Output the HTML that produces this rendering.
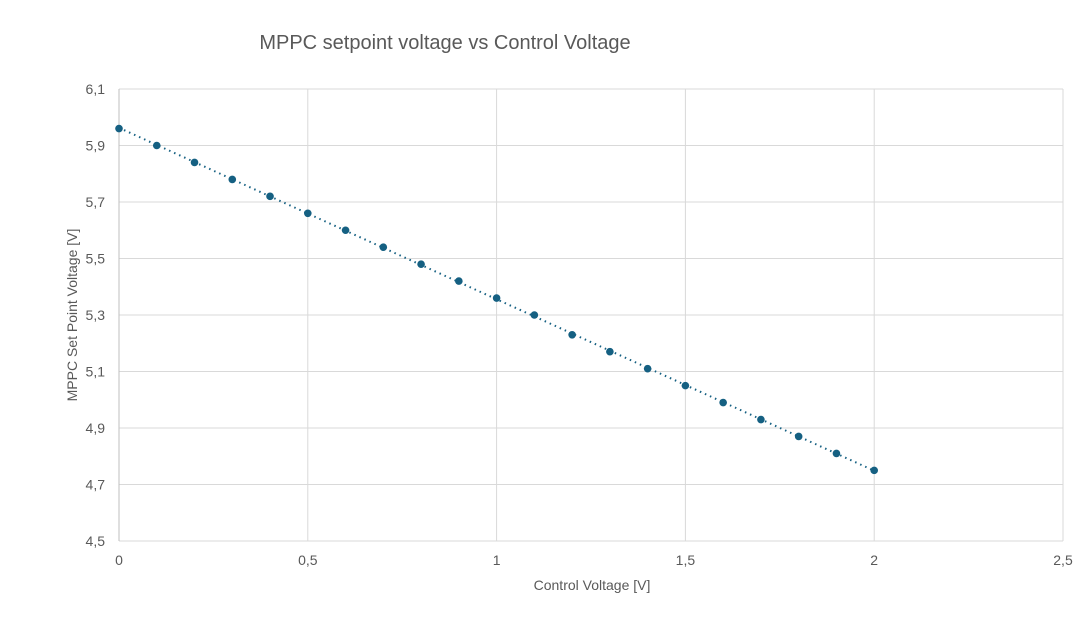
<!DOCTYPE html>
<html><head><meta charset="utf-8"><style>
body{margin:0;background:#fff;width:1092px;height:620px;overflow:hidden;font-family:"Liberation Sans",sans-serif}
</style></head><body>
<svg id="chart" width="1092" height="620">
<text x="445" y="49" font-size="20" fill="#595959" text-anchor="middle">MPPC setpoint voltage vs Control Voltage</text>
<g id="grid"></g><g id="ticks"></g><g id="series"></g>
<text x="592" y="590" font-size="14" fill="#595959" text-anchor="middle">Control Voltage [V]</text>
<text transform="translate(77,315) rotate(-90)" font-size="14" fill="#595959" text-anchor="middle">MPPC Set Point Voltage [V]</text>
</svg>
<script>
const xValues=[0,0.1,0.2,0.3,0.4,0.5,0.6,0.7,0.8,0.9,1.0,1.1,1.2,1.3,1.4,1.5,1.6,1.7,1.8,1.9,2.0];
const yValues=[5.96,5.90,5.84,5.78,5.72,5.66,5.60,5.54,5.48,5.42,5.36,5.30,5.23,5.17,5.11,5.05,4.99,4.93,4.87,4.81,4.75];
const xTicks=[0,0.5,1,1.5,2,2.5];
const yTicks=[4.5,4.7,4.9,5.1,5.3,5.5,5.7,5.9,6.1];
const X0=119,X1=1063,Y0=541,Y1=89;
const sx=v=>X0+(v-0)/(2.5-0)*(X1-X0);
const sy=v=>Y0-(v-4.5)/(6.1-4.5)*(Y0-Y1);
const NS="http://www.w3.org/2000/svg";
function mk(t,a,p){const e=document.createElementNS(NS,t);for(const k in a)e.setAttribute(k,a[k]);p.appendChild(e);return e;}
const fmt=v=>String(v).replace('.',',');
const grid=document.getElementById('grid'),ticks=document.getElementById('ticks'),series=document.getElementById('series');
yTicks.forEach(v=>{const l=mk('line',{x1:X0,x2:X1,y1:sy(v),y2:sy(v),stroke:'#d9d9d9','stroke-width':1},grid);


const t=mk('text',{x:X0-14,y:sy(v)+5,'font-size':14,fill:'#595959','text-anchor':'end'},ticks);t.textContent=fmt(v);

});
xTicks.forEach(v=>{const l=mk('line',{x1:sx(v),x2:sx(v),y1:Y1,y2:Y0,stroke:v===0?'#bfbfbf':'#d9d9d9','stroke-width':1},grid);


const t=mk('text',{x:sx(v),y:Y0+24,'font-size':14,fill:'#595959','text-anchor':'middle'},ticks);t.textContent=fmt(v);

});
// linear trendline
const n=xValues.length;let mx=0,my=0;xValues.forEach((x,i)=>{mx+=x;my+=yValues[i];});mx/=n;my/=n;
let num=0,den=0;xValues.forEach((x,i)=>{num+=(x-mx)*(yValues[i]-my);den+=(x-mx)**2;});
const b=num/den,a=my-b*mx,xa=xValues[0],xb=xValues[n-1];
const tl=mk('line',{x1:sx(xa),y1:sy(a+b*xa),x2:sx(xb),y2:sy(a+b*xb),stroke:'#156082','stroke-width':2,'stroke-dasharray':'1.5 4'},series);


xValues.forEach((x,i)=>{const c=mk('circle',{cx:sx(x),cy:sy(yValues[i]),r:3.8,fill:'#156082'},series);

});
</script>
</body></html>
